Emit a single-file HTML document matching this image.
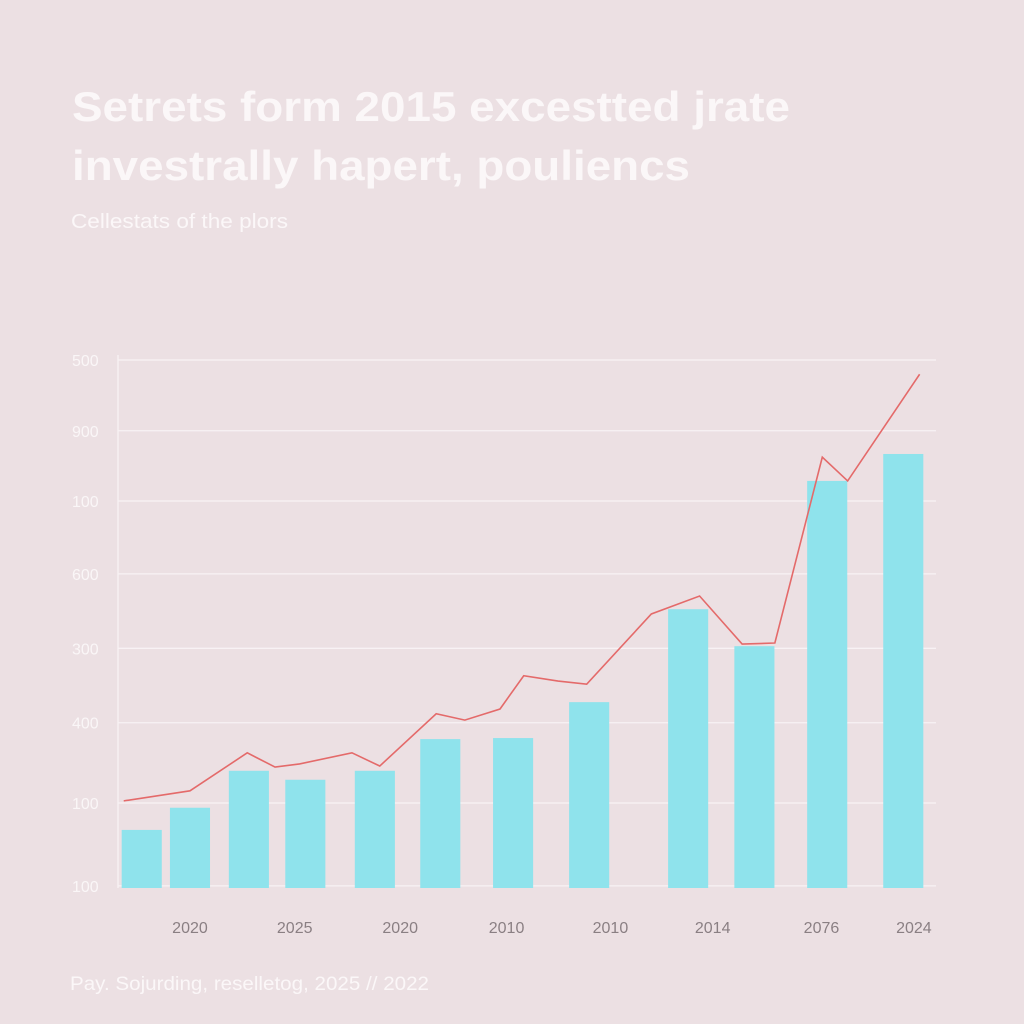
<!DOCTYPE html>
<html><head><meta charset="utf-8"><style>
html,body{margin:0;padding:0;background:#ece0e3;}
svg{display:block;font-family:"Liberation Sans",sans-serif;}
</style></head><body>
<svg id="chart" width="1024" height="1024" viewBox="0 0 1024 1024">
<rect x="0" y="0" width="1024" height="1024" fill="#ece0e3"/>
<text x="72" y="121" font-size="42" font-weight="bold" fill="#fbf7f8" textLength="718" lengthAdjust="spacingAndGlyphs">Setrets form 2015 excestted jrate</text>
<text x="72" y="180" font-size="42" font-weight="bold" fill="#fbf7f8" textLength="618" lengthAdjust="spacingAndGlyphs">investrally hapert, pouliencs</text>
<text x="71" y="228" font-size="20" fill="#fbf7f8" textLength="217" lengthAdjust="spacingAndGlyphs">Cellestats of the plors</text>
<g id="grid"></g><g id="bars"></g><g id="line"></g><g id="labels"></g>
<text x="70" y="990" font-size="19" fill="#fbf7f8" textLength="359" lengthAdjust="spacingAndGlyphs">Pay. Sojurding, reselletog, 2025 // 2022</text>
</svg>
<script>
const yTickValues=[1000,866,733,595,454,313,161,4];
const yTickLabels=["500","900","100","600","300","400","100","100"];
const xTickPositions=[8.8,21.6,34.5,47.5,60.2,72.7,86.0,97.3];
const xTickLabels=["2020","2025","2020","2010","2010","2014","2076","2024"];
const barX=[2.9,8.8,16.0,22.9,31.4,39.4,48.3,57.6,69.7,77.8,86.7,96.0];
const barValues=[110,152,222,205,222,282,284,352,528,458,771,822];
const lineX=[0.7,8.8,15.8,19.2,22.2,28.6,32.0,38.9,42.4,46.7,49.6,53.8,57.3,65.2,71.1,76.3,80.3,86.1,89.2,98.0];
const lineValues=[165,184,256,229,235,256,231,330,318,339,402,392,386,519,553,462,464,816,771,973];
const NS="http://www.w3.org/2000/svg";
const X0=118,X1=936,Y0=888,Y1=360;
function xs(v){return X0+v/100*(X1-X0);}
function ys(v){return Y0-v/1000*(Y0-Y1);}
const bw=4.9;
function mk(t,a,p){const e=document.createElementNS(NS,t);for(const k in a)e.setAttribute(k,a[k]);p.appendChild(e);return e;}
const grid=document.getElementById('grid'),labels=document.getElementById('labels');
yTickValues.forEach((v,i)=>{
 const l=mk('line',{x1:X0,x2:X1,y1:ys(v),y2:ys(v),stroke:'#f8f2f4','stroke-width':1.3},grid);
 
 
 const t=mk('text',{x:72,y:ys(v)+6,'font-size':16,fill:'#faf6f7'},labels);
 t.textContent=yTickLabels[i];
 
 
});
const ax=mk('line',{x1:X0,x2:X0,y1:355,y2:Y0,stroke:'#f8f2f4','stroke-width':1.3},grid);


xTickPositions.forEach((v,i)=>{
 const t=mk('text',{x:xs(v),y:933,'font-size':16,fill:'#8a7f83','text-anchor':'middle'},labels);
 t.textContent=xTickLabels[i];
 
 
});
const bars=document.getElementById('bars');
barValues.forEach((v,i)=>{
 const x=xs(barX[i]-bw/2),w=xs(barX[i]+bw/2)-x;
 const r=mk('rect',{x:x,y:ys(v),width:w,height:Y0-ys(v),fill:'#8fe3ec'},bars);
 
 
});
const pts=lineValues.map((v,i)=>xs(lineX[i])+','+ys(v)).join(' ');
const pl=mk('polyline',{points:pts,fill:'none',stroke:'#e46a6a','stroke-width':1.6},document.getElementById('line'));


</script>
</body></html>
